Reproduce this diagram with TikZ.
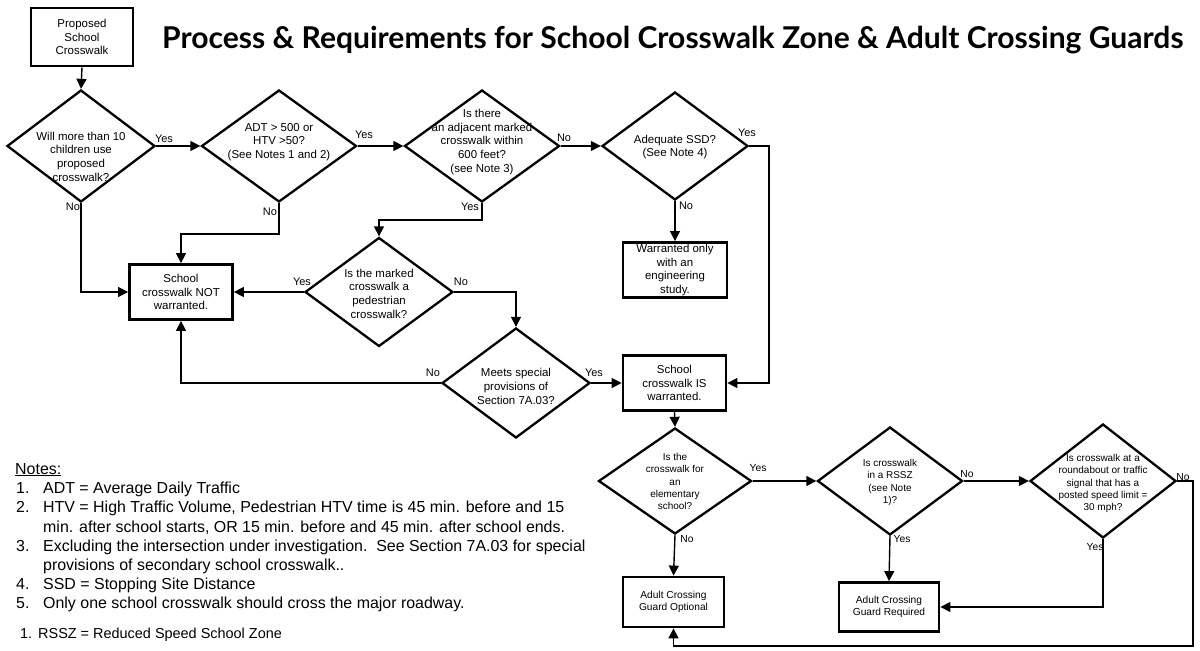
\documentclass[tikz,border=0pt]{standalone}
\usepackage{graphicx}
\usepackage{fontspec}
\setmainfont{Liberation Sans}
\newfontfamily\titlefont{Lato}
\usetikzlibrary{shapes.geometric,arrows.meta}
\begin{document}
\begin{tikzpicture}[x=1bp,y=-1bp,
  dia/.style={draw, shape=diamond, line width=2.3bp, inner sep=0pt},
  boxnode/.style={draw, rectangle, line width=2.8bp, inner sep=0pt, align=center, font=\fontsize{11.5}{13.7}\selectfont},
  boxnodeb/.style={draw, rectangle, line width=2.8bp, inner sep=0pt, align=center, font=\fontsize{10.2}{12.4}\selectfont},
  txt/.style={align=center, inner sep=0pt, font=\fontsize{11.5}{13.7}\selectfont},
  txtb/.style={align=center, inner sep=0pt, font=\fontsize{10}{12.3}\selectfont},
  lbl/.style={inner sep=0pt, font=\fontsize{11}{13}\selectfont},
  lblb/.style={inner sep=0pt, font=\fontsize{10.3}{12}\selectfont},
  note/.style={anchor=base west, inner sep=0pt, font=\fontsize{16}{19.5}\selectfont},
  arr/.style={line width=1.4bp, -{Triangle[length=10bp,width=10bp]}},
  ln/.style={line width=1.4bp}]
\useasboundingbox[fill=white] (0,0) rectangle (1200,651);

% title
\node[anchor=base west, inner sep=0pt] (title) at (162,49)
  {\resizebox{1021bp}{!}{\titlefont\bfseries Process \& Requirements for School Crosswalk Zone \& Adult Crossing Guards}};

% boxes
\node[boxnode, minimum width=102bp, minimum height=58bp] (prop) at (82,37) {Proposed\\School\\Crosswalk};
\node[boxnode, minimum width=103bp, minimum height=55bp] (notbox) at (181,292) {School\\crosswalk NOT\\warranted.};
\node[boxnode, minimum width=104bp, minimum height=55bp] (eng) at (675,270) {Warranted only\\with an\\engineering\\study.};
\node[boxnode, minimum width=103bp, minimum height=55bp] (isbox) at (674.5,383) {School\\crosswalk IS\\warranted.};
\node[boxnodeb, minimum width=101bp, minimum height=50bp] (opt) at (673.5,602) {Adult Crossing\\Guard Optional};
\node[boxnodeb, minimum width=100bp, minimum height=49bp] (req) at (889,607) {Adult Crossing\\Guard Required};

% diamonds
\node[dia, minimum width=148bp, minimum height=112bp] (d1) at (81,146) {};
\node[dia, minimum width=155bp, minimum height=112bp] (d2) at (279,146) {};
\node[dia, minimum width=155bp, minimum height=112bp] (d3) at (482,146) {};
\node[dia, minimum width=146bp, minimum height=108bp] (d4) at (675,146) {};
\node[dia, minimum width=148bp, minimum height=109bp] (d5) at (379,292) {};
\node[dia, minimum width=148bp, minimum height=110bp] (d6) at (516,383) {};
\node[dia, minimum width=153bp, minimum height=106bp] (d7) at (675,481) {};
\node[dia, minimum width=145bp, minimum height=108bp] (d8) at (890,481) {};
\node[dia, minimum width=146bp, minimum height=114bp] (d9) at (1103,481) {};

% diamond texts
\node[txt] (t1) at (81,156.5) {Will more than 10\\children use\\proposed\\crosswalk?};
\node[txt] (t2) at (279,142) {ADT > 500 or\\HTV >50?\\(See Notes 1 and 2)};
\node[txt] (t3) at (482,142) {Is there\\an adjacent marked\\crosswalk within\\600 feet?\\(see Note 3)};
\node[txt] (t4) at (675,147) {Adequate SSD?\\(See Note 4)};
\node[txt] (t5) at (379,293.5) {Is the marked\\crosswalk a\\pedestrian\\crosswalk?};
\node[txt] (t6) at (516,386.5) {Meets special\\provisions of\\Section 7A.03?};
\node[txtb] (t7) at (675,481.5) {Is the\\crosswalk for\\an\\elementary\\school?};
\node[txtb] (t8) at (890,482.5) {Is crosswalk\\in a RSSZ\\(see Note\\1)?};
\node[txtb] (t9) at (1103,483.5) {Is crosswalk at a\\roundabout or traffic\\signal that has a\\posted speed limit =\\30 mph?};

% connectors
\draw[arr] (prop.south) -- (d1.north);
\draw[arr] (d1.east) -- (d2.west);
\draw[arr] (d2.east) -- (d3.west);
\draw[arr] (d3.east) -- (d4.west);
\draw[arr] (d4.east) -- ++(20,0) |- (isbox.east);
\draw[arr] (d4.south) -- (eng.north);
\draw[arr] (d1.south) |- (notbox.west);
\draw[arr] (d2.south) -- ++(0,31) -| (notbox.north);
\draw[arr] (d3.south) -- ++(0,17) -| (d5.north);
\draw[arr] (d5.west) -- (notbox.east);
\draw[arr] (d5.east) -| (d6.north);
\draw[arr] (d6.west) -| (notbox.south);
\draw[arr] (d6.east) -- (isbox.west);
\draw[arr] (isbox.south) -- (d7.north);
\draw[arr] (d7.east) -- (d8.west);
\draw[arr] (d8.east) -- (d9.west);
\draw[arr] (d7.south) -- (opt.north);
\draw[arr] (d8.south) -- (req.north);
\draw[arr] (d9.south) |- (req.east);
\draw[arr] (d9.east) -- ++(16,0) -- ++(0,165) -| (opt.south);

% connector labels
\node[lbl] (y1) at (164,139) {Yes};
\node[lbl] (n1) at (73,207) {No};
\node[lbl] (y2) at (364,135) {Yes};
\node[lbl] (n2) at (270,212) {No};
\node[lbl] (n3) at (564,138) {No};
\node[lbl] (y3) at (470,207) {Yes};
\node[lbl] (y4) at (747,133) {Yes};
\node[lbl] (n4) at (686,206) {No};
\node[lbl] (y5) at (302,282) {Yes};
\node[lbl] (n5) at (461,282) {No};
\node[lbl] (n6) at (433,373) {No};
\node[lbl] (y6) at (594,373) {Yes};
\node[lblb] (y7) at (758,468) {Yes};
\node[lblb] (n7) at (687,539) {No};
\node[lblb] (n8) at (967,474) {No};
\node[lblb] (y8) at (902,539) {Yes};
\node[lblb] (n9) at (1183,477) {No};
\node[lblb] (y9) at (1095,547) {Yes};

% notes
\node[note] (nt0) at (15,474) {\underline{Notes:}};
\node[note] (nt1) at (16,493.5) {\makebox[27bp][l]{1.}ADT = Average Daily Traffic};
\node[note] (nt2) at (16,512.5) {\makebox[27bp][l]{2.}HTV = High Traffic Volume, Pedestrian HTV time is 45 min. before and 15};
\node[note] (nt3) at (43,532) {min. after school starts, OR 15 min. before and 45 min. after school ends.};
\node[note] (nt4) at (16,551) {\makebox[27bp][l]{3.}Excluding the intersection under investigation.\ \ See Section 7A.03 for special};
\node[note] (nt5) at (43,570) {provisions of secondary school crosswalk..};
\node[note] (nt6) at (16,589) {\makebox[27bp][l]{4.}SSD = Stopping Site Distance};
\node[note] (nt7) at (16,608.5) {\makebox[27bp][l]{5.}Only one school crosswalk should cross the major roadway.};
\node[note, font=\fontsize{14.5}{17}\selectfont] (nt8) at (20,638.5) {\makebox[18bp][l]{1.}RSSZ = Reduced Speed School Zone};
\end{tikzpicture}
\end{document}
